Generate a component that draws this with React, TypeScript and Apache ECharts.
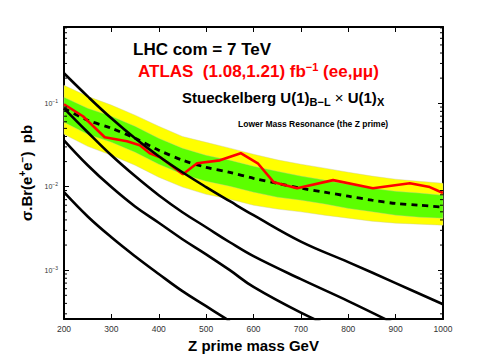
import React, { useEffect, useRef } from "react";
import * as echarts from "echarts";

// ---- data (mass in GeV, cross-section x BR in pb) ----
const bandMass = [200, 250, 300, 350, 400, 450, 500, 550, 600, 650, 700, 750, 800, 850, 900, 950, 1000];
const expectedLimit = [0.0871, 0.0626, 0.0502, 0.0381, 0.0274, 0.0208, 0.0171, 0.0149, 0.0126, 0.011, 0.0096, 0.0086, 0.0077, 0.0069, 0.0063, 0.006, 0.0057];
const sigma2Upper = [0.164, 0.121, 0.095, 0.072, 0.053, 0.040, 0.034, 0.029, 0.0245, 0.021, 0.0186, 0.0167, 0.0149, 0.0134, 0.0123, 0.0116, 0.011];
const sigma1Upper = [0.118, 0.087, 0.070, 0.053, 0.038, 0.029, 0.0238, 0.0208, 0.0176, 0.0153, 0.0134, 0.012, 0.0107, 0.0096, 0.0088, 0.0084, 0.0079];
const sigma1Lower = [0.0592, 0.0425, 0.0341, 0.0259, 0.0186, 0.0141, 0.0116, 0.0101, 0.0086, 0.0075, 0.0069, 0.0062, 0.0055, 0.005, 0.00456, 0.00431, 0.0042];
const sigma2Lower = [0.0425, 0.0305, 0.0238, 0.0181, 0.013, 0.0099, 0.0081, 0.0071, 0.006, 0.0054, 0.005, 0.00456, 0.0042, 0.00386, 0.00366, 0.00356, 0.00346];

const observedMass = [200, 240, 286, 333, 360, 381, 403, 451, 481, 529, 573, 609, 643, 692, 768, 852, 930, 972, 1000];
const observedLimit = [0.0973, 0.0699, 0.0392, 0.0351, 0.0314, 0.0252, 0.0226, 0.0141, 0.0191, 0.0207, 0.0252, 0.0191, 0.0113, 0.0096, 0.012, 0.0096, 0.011, 0.0099, 0.0084];

const theoryMass = [200, 250, 300, 350, 400, 450, 500, 550, 600, 700, 800, 900, 1000];
const theoryA = [0.229, 0.121, 0.066, 0.038, 0.0232, 0.0149, 0.0099, 0.0067, 0.00456, 0.0022, 0.00125, 0.0007, 0.00039];
const theoryB = [0.087, 0.045, 0.0238, 0.0134, 0.0079, 0.00495, 0.00327, 0.00216, 0.00147, 0.00078, 0.000426, 0.000225, null];
const theoryC = [0.036, 0.0181, 0.0099, 0.0058, 0.0037, 0.00235, 0.00155, 0.001, 0.00063, 0.00031, 0.00017, null, null];
const theoryD = [0.0086, 0.0044, 0.00248, 0.00147, 0.0009, 0.00056, 0.00037, 0.000245, null, null, null, null, null];

const xMin = 200;
const xMax = 1000;
const xStep = 100;
const yMin = 2.6e-4;
const yMax = 0.82;
const minorMultipliers = [2, 3, 4, 5, 6, 7, 8, 9];
const decades = [-4, -3, -2, -1];

const FONT = "'Liberation Sans', Arial, Helvetica, sans-serif";

function pairs(xs: number[], ys: (number | null)[]) {
  return xs.map((x, i) => [x, ys[i] == null ? null : ys[i]]);
}

function bandSeries(upper: number[], lower: number[], color: string, z: number) {
  return {
    type: "custom",
    coordinateSystem: "cartesian2d",
    xAxisIndex: 0,
    yAxisIndex: 0,
    silent: true,
    z,
    data: [[bandMass[0], upper[0]]],
    renderItem: (_params: any, api: any) => {
      const pts: number[][] = [];
      bandMass.forEach((m, i) => pts.push(api.coord([m, upper[i]])));
      for (let i = bandMass.length - 1; i >= 0; i--) pts.push(api.coord([bandMass[i], lower[i]]));
      return {
        type: "polygon",
        shape: { points: pts },
        style: { fill: color, stroke: "#c8c8a0", lineWidth: 0.4 },
      };
    },
  };
}

export default function App() {
  const ref = useRef<HTMLDivElement>(null);
  useEffect(() => {
    if (!ref.current) return;
    const chart = echarts.init(ref.current, null, { renderer: "svg" });

    const minorValues: number[] = [];
    decades.forEach((k) =>
      minorMultipliers.forEach((m) => {
        const v = m * Math.pow(10, k);
        if (v > yMin && v < yMax) minorValues.push(v);
      })
    );

    const lineBase = {
      type: "line",
      showSymbol: false,
      symbol: "none",
      silent: true,
      xAxisIndex: 0,
      yAxisIndex: 0,
    };

    const yLabelFormatter = (v: number) => {
      const l = Math.log10(v);
      if (Math.abs(l - Math.round(l)) > 1e-6) return "";
      return `{b|10}{s|−${Math.abs(Math.round(l))}}`;
    };

    const option: any = {
      animation: false,
      backgroundColor: "#ffffff",
      textStyle: { fontFamily: FONT },
      grid: { left: 64, right: 47, top: 27, bottom: 41, containLabel: false },
      xAxis: [
        {
          type: "value",
          min: xMin,
          max: xMax,
          interval: xStep,
          position: "bottom",
          name: "Z prime mass GeV",
          nameLocation: "middle",
          nameGap: 15,
          nameTextStyle: { fontFamily: FONT, fontWeight: "bold", fontSize: 15, color: "#000" },
          axisLine: { show: true, onZero: false, lineStyle: { color: "#000", width: 2 } },
          axisTick: { show: true, inside: true, length: 5, lineStyle: { color: "#000", width: 1 } },
          axisLabel: {
            fontFamily: FONT,
            fontSize: 8.5,
            color: "#333",
            margin: 5,
            formatter: (v: number) => String(v),
          },
          splitLine: { show: false },
        },
        {
          type: "value",
          min: xMin,
          max: xMax,
          interval: xStep,
          position: "top",
          axisLine: { show: true, onZero: false, lineStyle: { color: "#000", width: 2 } },
          axisTick: { show: true, inside: true, length: 5, lineStyle: { color: "#000", width: 1 } },
          axisLabel: { show: false },
          splitLine: { show: false },
        },
      ],
      yAxis: [
        {
          type: "log",
          min: yMin,
          max: yMax,
          position: "left",
          name: "{a|σ.Br(e}{s|+}{a|e}{s|−}{a|)  pb}",
          nameLocation: "middle",
          nameGap: 19,
          nameRotate: 90,
          nameTextStyle: {
            color: "#000",
            rich: {
              a: { fontFamily: FONT, fontWeight: "bold", fontSize: 15, color: "#000" },
              s: { fontFamily: FONT, fontWeight: "bold", fontSize: 10, color: "#000", padding: [0, 0, 8, 0] },
            },
          },
          axisLine: { show: true, onZero: false, lineStyle: { color: "#000", width: 2 } },
          axisTick: { show: true, inside: true, length: 5, lineStyle: { color: "#000", width: 1 } },
          axisLabel: {
            margin: 6,
            formatter: yLabelFormatter,
            showMinLabel: false,
            showMaxLabel: false,
            rich: {
              b: { fontFamily: FONT, fontSize: 7, color: "#333" },
              s: { fontFamily: FONT, fontSize: 5, color: "#333", padding: [0, 0, 5, 0] },
            },
          },
          splitLine: { show: false },
        },
        {
          type: "log",
          min: yMin,
          max: yMax,
          position: "right",
          axisLine: { show: true, onZero: false, lineStyle: { color: "#000", width: 2 } },
          axisTick: { show: true, inside: true, length: 5, lineStyle: { color: "#000", width: 1 } },
          axisLabel: { show: false },
          splitLine: { show: false },
        },
      ],
      series: [
        bandSeries(sigma2Upper, sigma2Lower, "#ffff00", 1),
        bandSeries(sigma1Upper, sigma1Lower, "#5cff00", 2),
        {
          ...lineBase,
          z: 3,
          data: pairs(bandMass, expectedLimit),
          smooth: 0.3,
          lineStyle: { color: "#000", width: 2.8, type: [6, 5] },
        },
        {
          ...lineBase,
          z: 4,
          data: pairs(observedMass, observedLimit),
          lineStyle: { color: "#ff0000", width: 2.6 },
        },
        ...[theoryA, theoryB, theoryC, theoryD].map((t) => ({
          ...lineBase,
          z: 5,
          data: pairs(theoryMass, t),
          smooth: 0.4,
          connectNulls: false,
          lineStyle: { color: "#000", width: 2.6 },
        })),
        {
          type: "custom",
          coordinateSystem: "cartesian2d",
          xAxisIndex: 0,
          yAxisIndex: 0,
          silent: true,
          z: 10,
          data: [[xMin, yMax]],
          renderItem: (params: any, api: any) => {
            const cs = params.coordSys;
            const children: any[] = [];
            minorValues.forEach((v) => {
              const y = api.coord([xMin, v])[1];
              children.push({
                type: "line",
                shape: { x1: cs.x, y1: y, x2: cs.x + 3, y2: y },
                style: { stroke: "#000", lineWidth: 1 },
              });
              children.push({
                type: "line",
                shape: { x1: cs.x + cs.width - 3, y1: y, x2: cs.x + cs.width, y2: y },
                style: { stroke: "#000", lineWidth: 1 },
              });
            });
            return { type: "group", children };
          },
        },
      ],
      graphic: [
        {
          type: "text",
          left: 133,
          top: 41,
          style: { text: "LHC com = 7 TeV", font: `bold 17px ${FONT}`, fill: "#000" },
          silent: true,
        },
        {
          type: "text",
          left: 138,
          top: 61,
          style: {
            text: "{a|ATLAS  (1.08,1.21) fb}{s|−1}{a| (ee,μμ)}",
            fill: "#ff0000",
            rich: {
              a: { fontFamily: FONT, fontWeight: "bold", fontSize: 17, fill: "#ff0000", color: "#ff0000" },
              s: { fontFamily: FONT, fontWeight: "bold", fontSize: 11, fill: "#ff0000", color: "#ff0000", padding: [0, 0, 9, 0] },
            },
          },
          silent: true,
        },
        {
          type: "text",
          left: 182,
          top: 90,
          style: {
            text: "{a|Stueckelberg U(1)}{s|B−L}{x| × }{a|U(1)}{s|X}",
            fill: "#000",
            rich: {
              a: { fontFamily: FONT, fontWeight: "bold", fontSize: 15, color: "#000" },
              x: { fontFamily: FONT, fontSize: 15, color: "#000" },
              s: { fontFamily: FONT, fontWeight: "bold", fontSize: 11, color: "#000", padding: [9, 0, 0, 0] },
            },
          },
          silent: true,
        },
        {
          type: "text",
          left: 238,
          top: 119,
          style: { text: "Lower Mass Resonance (the Z prime)", font: `bold 8.5px ${FONT}`, fill: "#000" },
          silent: true,
        },
      ],
    };

    chart.setOption(option);
    return () => chart.dispose();
  }, []);

  return (
    <div
      ref={ref}
      style={{ position: "fixed", left: 0, top: 0, width: 490, height: 360, background: "#fff" }}
    />
  );
}
